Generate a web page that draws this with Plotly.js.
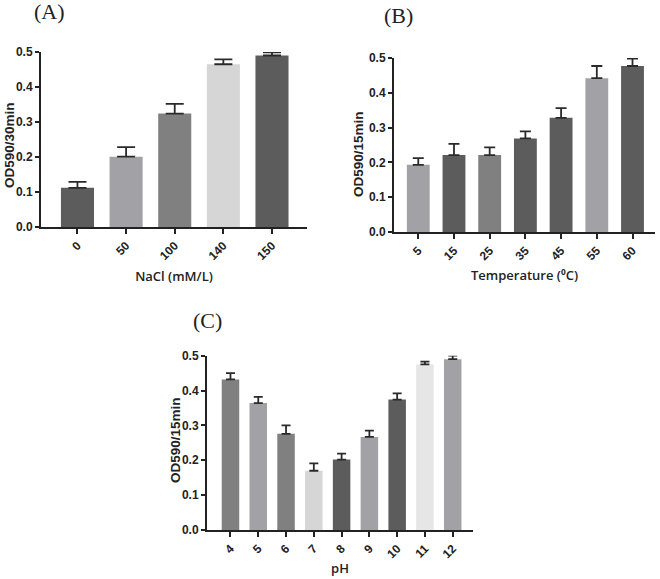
<!DOCTYPE html>
<html>
<head>
<meta charset="utf-8">
<script src="https://cdn.plot.ly/plotly-3.0.1.min.js"></script>
<style>html,body{margin:0;padding:0;background:#fff;}#chart{width:660px;height:579px;}</style>
</head>
<body>
<div id="chart"></div>
<script>
// Panel A: NaCl
const naclCats = ['0', '50', '100', '140', '150'];
const naclVals = [0.112, 0.201, 0.324, 0.465, 0.490];
const naclErr = [0.017, 0.027, 0.028, 0.014, 0.009];
// Panel B: Temperature
const tempCats = ['5', '15', '25', '35', '45', '55', '60'];
const tempVals = [0.193, 0.221, 0.221, 0.269, 0.328, 0.442, 0.477];
const tempErr = [0.019, 0.032, 0.022, 0.020, 0.028, 0.035, 0.021];
// Panel C: pH
const phCats = ['4', '5', '6', '7', '8', '9', '10', '11', '12'];
const phVals = [0.432, 0.364, 0.276, 0.170, 0.202, 0.267, 0.374, 0.475, 0.490];
const phErr = [0.018, 0.018, 0.024, 0.021, 0.017, 0.018, 0.018, 0.008, 0.010];
const yTicks = [0.0, 0.1, 0.2, 0.3, 0.4, 0.5];

const DK = '#5c5c5c', MD = '#808080', LT = '#a2a2a6', VL = '#d6d6d6', XL = '#e6e6e6';
const naclColors = [DK, LT, MD, VL, DK];
const tempColors = [LT, DK, MD, DK, DK, LT, DK];
const phColors = [MD, LT, MD, VL, DK, LT, DK, XL, LT];

function barTrace(cats, vals, err, colors, xa, ya, w, capw) {
  return {
    type: 'bar', x: cats, y: vals, xaxis: xa, yaxis: ya, width: w,
    marker: {color: colors, line: {width: 0}},
    error_y: {type: 'data', symmetric: false, array: err, arrayminus: err.map(() => 0),
      color: '#2a2a2a', thickness: 1.8, width: capw},
    cliponaxis: false, hoverinfo: 'none', showlegend: false
  };
}

const tickFont = {family: 'Liberation Sans, Arial, sans-serif', size: 12, color: '#222', weight: 700};
const titleFontX = {family: 'Open Sans, sans-serif', size: 13, color: '#222', weight: 600};
const titleFontY = {family: 'Liberation Sans, Arial, sans-serif', size: 13.5, color: '#222', weight: 700};

function xAxis(domain, range, title, anchor, standoff) {
  return {domain: domain, range: range, anchor: anchor, type: 'category',
    showline: true, linecolor: '#222', linewidth: 2, ticks: 'outside', ticklen: 5, tickwidth: 2,
    tickcolor: '#222', tickangle: -45, tickfont: tickFont, showgrid: false, zeroline: false,
    title: {text: title, font: titleFontX, standoff: standoff}, fixedrange: true};
}
function yAxis(domain, anchor) {
  return {domain: domain, range: [0, 0.5], anchor: anchor, tickvals: yTicks,
    ticktext: yTicks.map(v => v.toFixed(1)),
    showline: true, linecolor: '#222', linewidth: 2, ticks: 'outside', ticklen: 4, tickwidth: 2,
    tickcolor: '#222', tickfont: tickFont, showgrid: false, zeroline: false, fixedrange: true};
}

const W = 660, H = 579;
const px = (a, b) => [a / W, b / W];
const py = (top, bot) => [1 - bot / H, 1 - top / H];

const data = [
  barTrace(naclCats, naclVals, naclErr, naclColors, 'x', 'y', 0.68, 9),
  barTrace(tempCats, tempVals, tempErr, tempColors, 'x2', 'y2', 0.64, 5.5),
  barTrace(phCats, phVals, phErr, phColors, 'x3', 'y3', 0.63, 4.5)
];

const serif = {family: 'Liberation Serif, Times New Roman, serif', size: 22, color: '#222'};
function paperText(text, x, y, font, angle) {
  return {text: text, xref: 'paper', yref: 'paper', x: x / W, y: 1 - y / H,
    xanchor: 'center', yanchor: 'middle', showarrow: false, font: font, textangle: angle || 0};
}
const layout = {
  width: W, height: H, margin: {l: 0, r: 0, t: 0, b: 0},
  paper_bgcolor: '#fff', plot_bgcolor: 'rgba(0,0,0,0)',
  xaxis: xAxis(px(41, 307), [-0.75, 4.72], 'NaCl (mM/L)', 'y', 10),
  yaxis: yAxis(py(52, 227), 'x'),
  xaxis2: xAxis(px(394, 655), [-0.68, 6.63], 'Temperature (⁰C)', 'y2', 9),
  yaxis2: yAxis(py(58, 232), 'x2'),
  xaxis3: xAxis(px(207, 473), [-0.845, 8.73], 'pH', 'y3', 4),
  yaxis3: yAxis(py(355.7, 530), 'x3'),
  annotations: [
    paperText('(A)', 49, 12, serif),
    paperText('(B)', 398, 16, serif),
    paperText('(C)', 208, 320, serif),
    paperText('OD590/30min', 9, 145, titleFontY, -90),
    paperText('OD590/15min', 358, 154, titleFontY, -90),
    paperText('OD590/15min', 175, 440, titleFontY, -90)
  ]
};

Plotly.newPlot('chart', data, layout, {displayModeBar: false, staticPlot: true});
</script>
</body>
</html>
